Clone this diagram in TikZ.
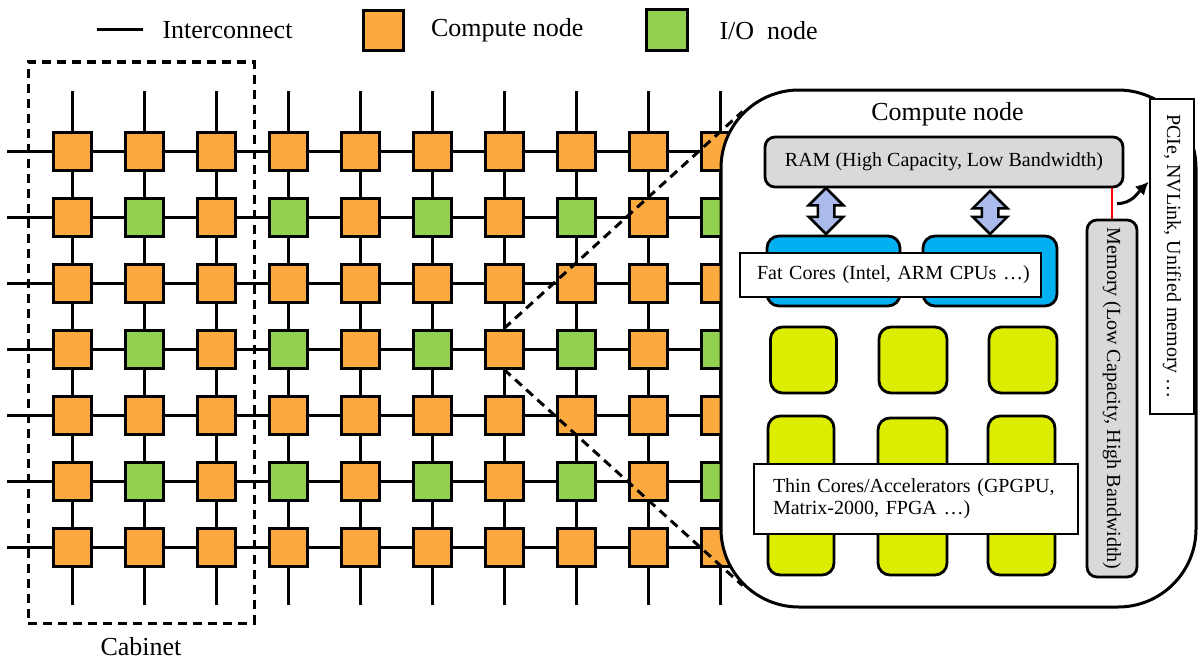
\documentclass[tikz,border=0pt]{standalone}
\usepackage{fontspec}
\setmainfont{Liberation Serif}
\usetikzlibrary{arrows.meta,shapes.arrows,calc,positioning}

\definecolor{cnorange}{RGB}{252,170,64}
\definecolor{iogreen}{RGB}{146,208,80}
\definecolor{fatblue}{RGB}{0,176,240}
\definecolor{thinyellow}{RGB}{221,237,0}
\definecolor{ramgray}{RGB}{217,217,217}
\definecolor{arrblue}{RGB}{170,187,236}

\begin{document}
\begin{tikzpicture}[x=1pt,y=-1pt,>={Latex[length=13pt,width=13pt]}]

  \tikzstyle{CN}=[line width=3pt, rectangle, draw, minimum size=38pt,
    inner sep=0pt, fill=cnorange];
  \tikzstyle{IO}=[CN, fill=iogreen];
  \tikzstyle{LINK}=[line width=3pt];
  \tikzstyle{DASHED}=[line width=3pt, dash pattern=on 9pt off 6pt];
  \tikzstyle{TXT}=[font=\fontsize{26}{30}\selectfont];
  \tikzstyle{SMALL}=[font=\fontsize{20}{22}\selectfont];
  \tikzstyle{CORE}=[line width=2.8pt, rectangle, draw, rounded corners=12pt,
    inner sep=0pt];
  \tikzstyle{LABEL}=[line width=2.8pt, rectangle, draw, fill=white, SMALL,
    align=left];
  \tikzstyle{GRAY}=[line width=2.8pt, rectangle, draw, rounded corners=10pt,
    fill=ramgray, SMALL, inner sep=0pt];
  \tikzstyle{DARR}=[double arrow, draw, line width=2.5pt, fill=arrblue,
    rotate=90, inner xsep=0pt, inner ysep=7pt, double arrow head extend=9pt];

  \useasboundingbox (0,0) rectangle (1198,661);

  %% legend
  \coordinate (lg-a) at (97,30);
  \coordinate (lg-b) at (143,30);
  \draw[LINK] (lg-a) -- (lg-b);
  \node [TXT,right=16pt of lg-b] (lg-link) {Interconnect};
  \node [CN,minimum size=40pt] (lg-cn) at (383,30.5) {};
  \node [TXT,right=23pt of lg-cn] (lg-cntxt) {Compute node};
  \node [IO,minimum size=41pt] (lg-io) at (667,30.5) {};
  \node [TXT,right=27pt of lg-io] (lg-iotxt) {I/O\ \ node};

  %% grid of nodes
  \foreach \c in {1,...,10}{
    \foreach \r in {1,...,7}{
      \pgfmathtruncatemacro\isio{and(iseven(\c),iseven(\r))}
      \ifnum\isio=1 \def\kind{IO}\else\def\kind{CN}\fi
      \node [\kind] (n-\c-\r) at ({72*\c},{85+66*\r}) {};
    }
  }

  %% interconnect
  \foreach \c in {1,...,10}{
    \coordinate (top-\c) at ({72*\c},91);
    \coordinate (bot-\c) at ({72*\c},605);
    \draw[LINK] (top-\c) -- (n-\c-1);
    \draw[LINK] (n-\c-7) -- (bot-\c);
    \foreach \r [count=\s from 2] in {1,...,6}
      \draw[LINK] (n-\c-\r) -- (n-\c-\s);
  }
  \foreach \r in {1,...,7}{
    \coordinate (left-\r) at (7,{85+66*\r});
    \draw[LINK] (left-\r) -- (n-1-\r);
    \foreach \c [count=\d from 2] in {1,...,9}
      \draw[LINK] (n-\c-\r) -- (n-\d-\r);
  }

  %% cabinet
  \node [draw,DASHED,minimum width=226pt,minimum height=561pt,inner sep=0pt]
    (cab) at (141,342.5) {};
  \node [TXT,inner ysep=1pt,below=12pt of cab] (cab-lbl) {Cabinet};

  %% compute node
  \node [draw,line width=3pt,fill=white,rounded corners=78pt,
    minimum width=475pt,minimum height=517pt,inner sep=0pt] (box) at (958.5,348.5) {};
  \node [TXT,below=10pt of box.north,xshift=-11pt] (box-title) {Compute node};

  \node [GRAY,minimum width=358pt,minimum height=50pt] (ram) at (944,162)
    {RAM (High Capacity, Low Bandwidth)};

  \node [CORE,fill=fatblue,minimum width=133pt,minimum height=70pt] (fat1) at (833.5,271) {};
  \node [CORE,fill=fatblue,minimum width=134pt,minimum height=70pt] (fat2) at (990,271) {};

  \node [DARR,minimum height=46pt] (arr1) at (826,211) {};
  \node [DARR,minimum height=43pt] (arr2) at (990,212.5) {};

  \node [LABEL,text width=267pt,inner xsep=17pt,minimum height=44pt] (fat-lbl)
    at (890.5,275) {\mbox{Fat Cores (Intel, ARM CPUs …)}};

  \node [CORE,fill=thinyellow,minimum width=66pt,minimum height=66pt] (thin1) at (803.5,360) {};
  \node [CORE,fill=thinyellow,minimum width=68pt,minimum height=66pt] (thin2) at (913,360) {};
  \node [CORE,fill=thinyellow,minimum width=68pt,minimum height=66pt] (thin3) at (1023,360) {};
  \node [CORE,fill=thinyellow,minimum width=66pt,minimum height=159pt] (thin4) at (801,495.5) {};
  \node [CORE,fill=thinyellow,minimum width=69pt,minimum height=157pt] (thin5) at (912.5,496.5) {};
  \node [CORE,fill=thinyellow,minimum width=67pt,minimum height=159pt] (thin6) at (1021.5,495.5) {};

  \node [LABEL,text width=286pt,inner xsep=19pt,minimum height=70pt] (thin-lbl)
    at (916,499) {Thin Cores/Accelerators (GPGPU,\\Matrix-2000, FPGA …)};

  \node [GRAY,rotate=-90,minimum width=357pt,minimum height=50pt] (mem)
    at (1112,398.5) {Memory (Low Capacity, High Bandwidth)};
  \draw[red,line width=2.2pt] (ram.south -| mem.west) -- (mem.west);

  \node [draw,line width=2.5pt,fill=white,rotate=-90,minimum width=315pt,
    minimum height=44pt,inner sep=0pt,SMALL] (pcie) at (1172,256.5)
    {PCIe, NVLink, Unified memory …};

  \coordinate (bus) at ($(mem.west)+(5,-15)$);
  \coordinate (pcie-in) at ($(pcie.south west)+(0,84)$);
  \draw[->,line width=3pt] (bus) to[out=0,in=225] (pcie-in);

  %% zoom lines
  \coordinate (arc-t) at ($(box.north west)+(23,23)$);
  \coordinate (arc-b) at ($(box.south west)+(23,-23)$);
  \draw[DASHED] (n-7-4.north) -- (arc-t);
  \draw[DASHED] (n-7-4.south) -- (arc-b);

\end{tikzpicture}
\end{document}
